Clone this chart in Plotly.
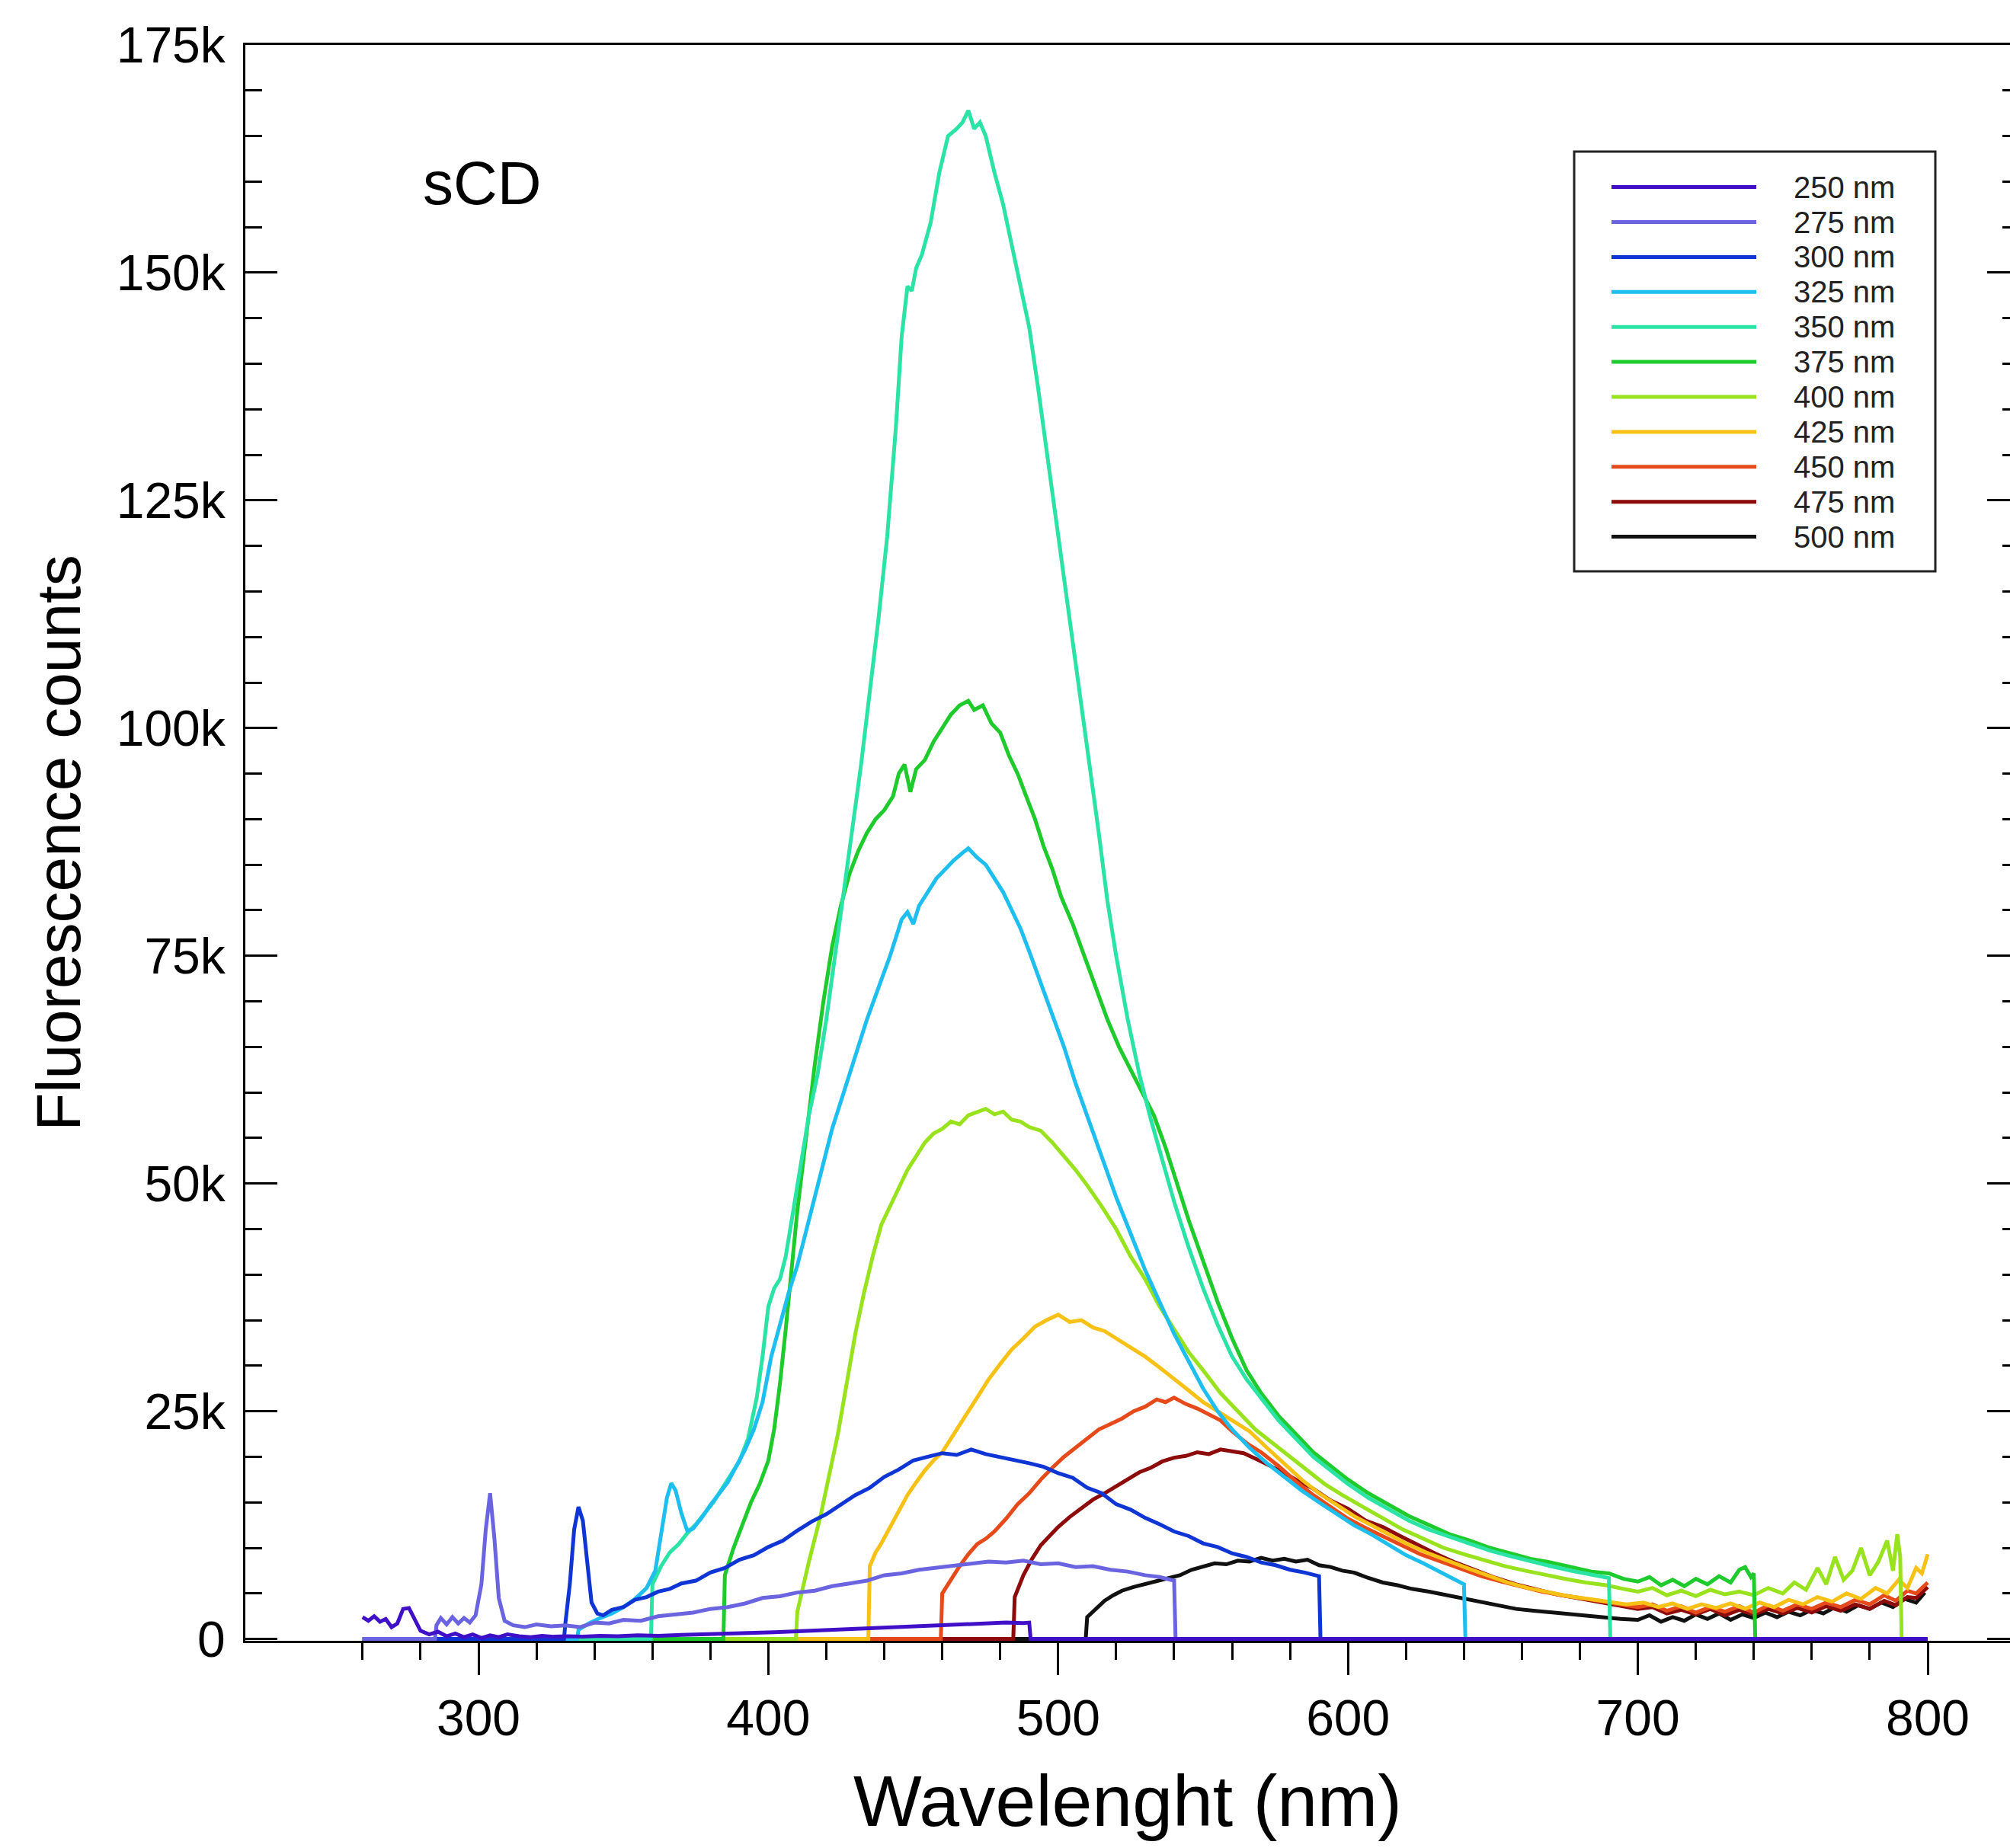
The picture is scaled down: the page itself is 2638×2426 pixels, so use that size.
import plotly.graph_objects as go

# ---------------- data ----------------
series_names = ["250 nm", "275 nm", "300 nm", "325 nm", "350 nm", "375 nm",
                "400 nm", "425 nm", "450 nm", "475 nm", "500 nm"]
series_colors = ["#4010C8", "#6A64E0", "#1035D5", "#1EBFEF", "#2BE3A4", "#1FCB2C",
                 "#98E21E", "#F7C116", "#E64A1A", "#8E0B0B", "#111111"]

wl_250 = [260, 262, 264, 266, 268, 270, 272, 274, 276, 278, 280, 283, 286, 289, 292, 295, 298, 301, 304, 307,
          310, 314, 318, 322, 326, 331, 336, 342, 348, 355, 362, 370, 378, 386, 394, 402, 410, 418, 426, 434,
          442, 450, 458, 466, 474, 482, 488, 490, 490.5, 800]
ct_250 = [2400, 2000, 2500, 1900, 2200, 1300, 1700, 3300, 3400, 2100, 900, 500, 800, 300, 600, 200, 500, 100, 400, 200,
          500, 300, 200, 350, 250, 300, 250, 350, 300, 400, 350, 450, 500, 600, 650, 750, 850, 950, 1050, 1200,
          1300, 1450, 1550, 1650, 1700, 1800, 1750, 1800, 0, 0]

wl_275 = [260, 285, 285.5, 287, 289, 291, 293, 295, 297, 299, 301, 302.5, 304, 305.5, 307, 309, 312, 316, 320, 325,
          330, 335, 340, 345, 350, 356, 362, 368, 374, 380, 386, 392, 398, 404, 410, 416, 422, 428, 434, 440,
          446, 452, 458, 464, 470, 476, 482, 488, 494, 500, 506, 512, 518, 524, 530, 535, 540, 540.5, 800]
ct_275 = [0, 0, 1500, 2300, 1600, 2400, 1700, 2300, 1800, 2600, 6000, 12000, 16000, 11000, 4500, 2000, 1500, 1300, 1600, 1400,
          1500, 1300, 1800, 1700, 2100, 2000, 2500, 2700, 2900, 3300, 3500, 3900, 4500, 4700, 5100, 5300, 5800, 6100, 6400, 7000,
          7200, 7600, 7800, 8100, 8300, 8500, 8400, 8600, 8200, 8300, 7900, 8000, 7600, 7400, 7000, 6800, 6400, 0, 0]

wl_300 = [260, 329.5, 330, 331.5, 333, 334.5, 336, 337.5, 339, 341, 343, 346, 350, 354, 358, 362, 366, 370, 375, 380,
          385, 390, 395, 400, 405, 410, 415, 420, 425, 430, 435, 440, 445, 450, 455, 460, 465, 470, 475, 480,
          485, 490, 495, 500, 505, 510, 515, 520, 525, 530, 535, 540, 545, 550, 555, 560, 565, 570, 575, 580,
          585, 590, 590.5, 800]
ct_300 = [0, 0, 1800, 6000, 12000, 14500, 13000, 8000, 4000, 2800, 2600, 3200, 3500, 4300, 4600, 5200, 5500, 6100, 6400, 7300,
          7800, 8700, 9200, 10100, 10800, 11900, 12900, 13700, 14800, 15800, 16600, 17800, 18600, 19600, 20000, 20400, 20200, 20800, 20300, 20000,
          19700, 19300, 18900, 18200, 17700, 16600, 16000, 14800, 14200, 13300, 12600, 11800, 11300, 10500, 10100, 9400, 9000, 8400, 8100, 7600,
          7300, 6900, 0, 0]

wl_325 = [260, 334, 334.5, 338, 342, 346, 350, 354, 358, 361, 363, 365, 366.5, 368, 370, 372, 374, 377, 380, 383,
          386, 389, 392, 395, 398, 401, 404, 407, 410, 414, 418, 422, 426, 430, 434, 438, 442, 446, 448, 450,
          452, 455, 458, 461, 464, 467, 469, 472, 475, 478, 481, 484, 487, 490, 494, 498, 502, 506, 510, 515,
          520, 525, 530, 535, 540, 545, 550, 555, 560, 566, 572, 578, 584, 590, 596, 602, 608, 614, 620, 626,
          632, 637, 640, 640.5, 800]
ct_325 = [0, 0, 1000, 1700, 2300, 2800, 3500, 4400, 5600, 7500, 11500, 15500, 17100, 16300, 13800, 11900, 12100, 13300, 14700, 16000,
          17200, 19000, 20800, 23000, 26000, 31000, 34500, 38000, 41000, 46000, 51000, 56000, 60000, 64000, 68000, 71500, 75000, 79000, 79800, 78500,
          80500, 82000, 83500, 84500, 85500, 86300, 86800, 85800, 85000, 83500, 82000, 80000, 78000, 75500, 72000, 68500, 65000, 61000, 57500, 53000,
          48500, 44500, 40500, 37000, 33500, 30500, 27500, 25000, 23000, 21000, 19300, 17800, 16300, 15000, 13800, 12500, 11500, 10300, 9200, 8300,
          7300, 6500, 6000, 0, 0]

wl_350 = [260, 359.5, 360, 363, 366, 369, 372, 375, 378, 381, 384, 387, 390, 393, 396, 398, 400, 402, 404, 406,
          408, 411, 414, 417, 420, 423, 426, 429, 432, 435, 438, 441, 444, 446, 448, 449.5, 451, 453, 456, 459,
          462, 465, 467, 469, 471, 473, 475, 478, 481, 484, 487, 490, 493, 496, 499, 502, 505, 508, 511, 514,
          517, 520, 524, 528, 532, 536, 540, 545, 550, 555, 560, 565, 570, 576, 582, 588, 594, 600, 607, 614,
          621, 628, 635, 642, 649, 656, 663, 670, 677, 684, 688, 690, 690.5, 800]
ct_350 = [0, 0, 6000, 8000, 9500, 10400, 11600, 12600, 13800, 15000, 16500, 18000, 19500, 22000, 26500, 31000, 36500, 38500, 39500, 42000,
          46000, 52000, 57500, 62000, 68000, 75000, 82000, 89000, 96000, 104000, 112000, 121000, 133000, 143000, 148500, 148000, 150500, 152000, 155500, 161000,
          165000, 165800, 166500, 167800, 165800, 166500, 165000, 161000, 157500, 153000, 148500, 144000, 137500, 130500, 123500, 116500, 110000, 103000, 96000, 88500,
          81000, 75000, 68000, 62000, 57000, 52500, 48000, 43000, 38500, 34500, 31000, 28500, 26500, 24000, 22000, 20000, 18500, 17000, 15500, 14200,
          13000, 12000, 11200, 10400, 9700, 9100, 8500, 8000, 7500, 7100, 6900, 6700, 0, 0]

wl_375 = [260, 384.5, 385, 388, 391, 394, 397, 400, 402, 404, 406, 408, 410, 413, 416, 419, 422, 425, 428, 431,
          434, 437, 440, 443, 445, 447, 449, 451, 454, 457, 460, 463, 466, 469, 471, 474, 477, 480, 483, 486,
          489, 492, 495, 498, 501, 505, 509, 513, 517, 521, 525, 529, 533, 537, 541, 545, 550, 555, 560, 565,
          570, 576, 582, 588, 594, 600, 607, 614, 621, 628, 635, 642, 649, 656, 663, 670, 677, 684, 690, 695,
          700, 704, 708, 712, 716, 720, 724, 728, 732, 735, 737, 739, 740, 740.5, 800]
ct_375 = [0, 0, 7000, 10000, 12500, 15000, 17000, 19600, 23000, 28000, 34000, 41000, 47000, 55000, 63000, 70000, 76000, 80500, 84000, 86500,
          88500, 90000, 91000, 92500, 95000, 96000, 93000, 95500, 96500, 98500, 100000, 101500, 102500, 103000, 102000, 102500, 100500, 99500, 97000, 95000,
          92500, 90000, 87000, 84500, 81500, 78500, 75000, 71500, 68000, 65000, 62500, 60000, 57500, 54000, 50000, 46000, 41500, 37000, 33000, 29500,
          27000, 24500, 22500, 20500, 19000, 17500, 16000, 14800, 13500, 12500, 11500, 10800, 10000, 9400, 8800, 8400, 7900, 7400, 7200, 6600,
          6300, 6800, 5900, 6500, 5800, 6600, 6000, 6900, 6200, 7600, 7900, 6800, 7200, 0, 0]

wl_400 = [260, 409.5, 410, 412, 414, 416, 418, 420, 422, 424, 427, 430, 433, 436, 439, 442, 445, 448, 451, 454,
          457, 460, 463, 466, 469, 472, 475, 478, 481, 484, 487, 490, 494, 498, 502, 506, 510, 515, 520, 525,
          530, 535, 540, 545, 550, 556, 562, 568, 574, 580, 586, 592, 598, 605, 612, 619, 626, 633, 640, 647,
          654, 661, 668, 675, 682, 689, 695, 700, 705, 710, 715, 720, 725, 730, 735, 740, 745, 750, 754, 758,
          762, 765, 768, 771, 774, 777, 780, 783, 786, 788, 789.5, 790.5, 791, 800]
ct_400 = [0, 0, 3000, 6000, 8500, 11000, 13500, 16500, 19500, 22500, 28000, 33500, 38000, 42000, 45500, 47500, 49500, 51500, 53000, 54500,
          55500, 56000, 56800, 56500, 57500, 57800, 58200, 57600, 57900, 57000, 56800, 56200, 55800, 54500, 53000, 51500, 49800, 47500, 45000, 42000,
          39500, 36500, 34000, 31500, 29500, 27000, 25000, 23000, 21500, 20000, 18500, 17000, 15800, 14500, 13300, 12000, 11000, 10000, 9300, 8600,
          8000, 7500, 7000, 6600, 6200, 5900, 5500, 5200, 5600, 4800, 5300, 4700, 5400, 4900, 5200, 4800, 5600, 5000, 6200, 5400,
          7800, 6000, 9000, 6500, 7500, 10000, 7000, 8500, 10800, 7500, 11500, 9000, 0, 0]

wl_425 = [260, 434.5, 435, 437, 439, 442, 445, 448, 451, 454, 457, 460, 464, 468, 472, 476, 480, 484, 488, 492,
          496, 500, 504, 508, 512, 516, 520, 525, 530, 535, 540, 545, 550, 555, 560, 566, 572, 578, 584, 590,
          596, 602, 608, 614, 620, 627, 634, 641, 648, 655, 662, 669, 676, 683, 690, 696, 702, 707, 712, 717,
          722, 727, 732, 737, 742, 747, 752, 757, 762, 767, 772, 777, 782, 786, 790, 793, 796, 798, 800]
ct_425 = [0, 0, 8000, 9500, 10500, 12300, 14000, 15800, 17200, 18500, 19600, 20500, 22500, 24500, 26500, 28500, 30200, 31800, 33000, 34300,
          35000, 35600, 34800, 35000, 34200, 33800, 33000, 32000, 31000, 29800, 28600, 27300, 26000, 25000, 24000, 22800, 21000, 19300, 17500, 16000,
          14700, 13500, 12500, 11500, 10500, 9500, 8600, 7800, 7000, 6200, 5600, 5100, 4700, 4400, 4100, 3800, 4000, 3500, 3900, 3300,
          3800, 3400, 3900, 3300, 4000, 3500, 4300, 3800, 4600, 4100, 5000, 4400, 5600, 5000, 6500, 5600, 7800, 7200, 9300]

wl_450 = [260, 459.5, 460, 463, 466, 469, 472, 475, 478, 482, 486, 490, 494, 498, 502, 506, 510, 514, 518, 522,
          526, 530, 534, 537, 540, 544, 548, 552, 556, 560, 565, 570, 576, 582, 588, 594, 600, 606, 612, 618,
          625, 632, 639, 646, 653, 660, 667, 674, 681, 688, 694, 700, 705, 710, 715, 720, 725, 730, 735, 740,
          745, 750, 755, 760, 765, 770, 775, 780, 785, 789, 793, 796, 800]
ct_450 = [0, 0, 5000, 6600, 8000, 9300, 10400, 11000, 11800, 13200, 14800, 16000, 17500, 18800, 20000, 21000, 22000, 23000, 23600, 24200,
          25000, 25500, 26300, 26000, 26500, 25800, 25300, 24600, 24000, 22800, 21500, 20500, 19000, 17300, 15800, 14500, 13200, 12200, 11300, 10300,
          9300, 8500, 7700, 6900, 6300, 5700, 5200, 4800, 4400, 4100, 3800, 3500, 3800, 3100, 3600, 2900, 3500, 3000, 3600, 2900,
          3700, 3100, 3800, 3300, 4000, 3500, 4300, 3800, 4800, 4200, 5300, 5000, 6200]

wl_475 = [260, 484.5, 485, 488, 491, 494, 497, 500, 504, 508, 512, 516, 520, 524, 528, 532, 536, 540, 544, 548,
          552, 556, 560, 564, 568, 572, 577, 582, 588, 594, 600, 606, 612, 618, 624, 630, 637, 644, 651, 658,
          665, 672, 679, 686, 693, 700, 705, 710, 715, 720, 725, 730, 735, 740, 745, 750, 755, 760, 765, 770,
          775, 780, 785, 789, 793, 796, 800]
ct_475 = [0, 0, 4600, 7000, 8800, 10300, 11300, 12300, 13400, 14300, 15300, 16000, 16800, 17500, 18300, 18800, 19500, 19900, 20100, 20500,
          20300, 20800, 20600, 20400, 19800, 19200, 18400, 17500, 16500, 15200, 14300, 13000, 12300, 11300, 10300, 9400, 8400, 7500, 6700, 6000,
          5400, 4900, 4500, 4100, 3700, 3300, 3500, 2800, 3200, 2700, 3300, 2600, 3200, 2700, 3300, 2800, 3400, 2900, 3600, 3100,
          3800, 3300, 4200, 3700, 4600, 4500, 5700]

wl_500 = [260, 509.5, 510, 513, 516, 519, 522, 526, 530, 534, 538, 542, 546, 550, 554, 558, 562, 566, 570, 574,
          578, 582, 586, 590, 594, 598, 602, 607, 612, 617, 622, 628, 634, 640, 646, 652, 658, 664, 670, 676,
          682, 688, 694, 700, 704, 708, 712, 716, 720, 724, 728, 732, 736, 740, 744, 748, 752, 756, 760, 764,
          768, 772, 776, 780, 784, 788, 792, 796, 799]
ct_500 = [0, 0, 2400, 3300, 4200, 4800, 5300, 5700, 6000, 6300, 6600, 7000, 7600, 8000, 8300, 8200, 8600, 8500, 8900, 8600,
          8800, 8500, 8700, 8100, 7900, 7500, 7300, 6700, 6200, 5900, 5500, 5200, 4800, 4500, 4000, 3600, 3300, 3100, 2900, 2700,
          2500, 2400, 2200, 2100, 2600, 1900, 2400, 2000, 2700, 2200, 2800, 2100, 2700, 2300, 2900, 2400, 3000, 2600, 3200, 2800,
          3500, 3000, 3700, 3300, 4000, 3500, 4400, 4000, 5100]

x_major_ticks = [300, 400, 500, 600, 700, 800]
x_minor_ticks = [260, 280, 320, 340, 360, 380, 420, 440, 460, 480, 520, 540, 560, 580,
                 620, 640, 660, 680, 720, 740, 760, 780]
y_major_ticks = [0, 25000, 50000, 75000, 100000, 125000, 150000, 175000]
y_tick_labels = ["0", "25k", "50k", "75k", "100k", "125k", "150k", "175k"]

all_wl = [wl_250, wl_275, wl_300, wl_325, wl_350, wl_375, wl_400, wl_425, wl_450, wl_475, wl_500]
all_ct = [ct_250, ct_275, ct_300, ct_325, ct_350, ct_375, ct_400, ct_425, ct_450, ct_475, ct_500]

# ---------------- layout constants (pixels) ----------------
W, H = 2638, 2426
L, R, T, B = 322, 0, 59, 272
PW, PH = W - L - R, H - T - B
FONT = "Liberation Sans, Arial, Helvetica, sans-serif"
LINE_W = 5


def px_x(px):
    return (px - L) / PW


def px_y(py):
    return (H - B - py) / PH


fig = go.Figure()

# draw the last series first so that the shortest-wavelength traces end on top
for i in reversed(range(len(series_names))):
    fig.add_trace(go.Scatter(
        x=all_wl[i], y=all_ct[i], mode="lines", name=series_names[i],
        line=dict(color=series_colors[i], width=LINE_W), showlegend=False,
        hoverinfo="skip"))

# helper trace for the right-hand tick axis
fig.add_trace(go.Scatter(x=[None], y=[None], yaxis="y2", showlegend=False, hoverinfo="skip"))

fig.update_layout(
    width=W, height=H,
    margin=dict(l=L, r=R, t=T, b=B, autoexpand=False),
    paper_bgcolor="white", plot_bgcolor="white",
    font=dict(family=FONT, color="black"),
    xaxis=dict(
        range=[219.56, 828.39], showline=True, linecolor="black", linewidth=3,
        mirror=True, ticks="outside", ticklen=42, tickwidth=3, tickcolor="black",
        tickvals=x_major_ticks, tickfont=dict(size=66, family=FONT),
        minor=dict(tickvals=x_minor_ticks, ticks="outside", ticklen=22, tickwidth=3, tickcolor="black"),
        showgrid=False, zeroline=False, layer="below traces",
        title=dict(text="Wavelenght (nm)", font=dict(size=95, family=FONT), standoff=40),
    ),
    yaxis=dict(
        range=[-200, 175000], showline=True, linecolor="black", linewidth=3,
        ticks="inside", ticklen=42, tickwidth=3, tickcolor="black",
        tickvals=y_major_ticks, ticktext=y_tick_labels, tickfont=dict(size=66, family=FONT),
        minor=dict(dtick=5000, ticks="inside", ticklen=22, tickwidth=3, tickcolor="black"),
        showgrid=False, zeroline=False, ticklabelstandoff=10,
        title=dict(text="Fluorescence counts", font=dict(size=82, family=FONT), standoff=20),
    ),
    yaxis2=dict(
        range=[-200, 175000], overlaying="y", side="right", anchor="free", position=1,
        showline=False, ticks="inside", ticklen=30, tickwidth=3, tickcolor="black",
        tickvals=y_major_ticks, showticklabels=False,
        minor=dict(dtick=5000, ticks="inside", ticklen=10, tickwidth=3, tickcolor="black"),
        showgrid=False, zeroline=False,
    ),
)

# sample label
fig.add_annotation(x=px_x(633), y=px_y(241), xref="paper", yref="paper",
                   text="sCD", showarrow=False, xanchor="center", yanchor="middle",
                   font=dict(size=80, family=FONT, color="black"))

# legend box drawn in the style of the original (long line samples)
shapes = [dict(type="rect", xref="paper", yref="paper",
               x0=px_x(2066), x1=px_x(2540), y0=px_y(750), y1=px_y(199),
               line=dict(color="#222222", width=3), fillcolor="white", layer="above")]
row0, drow = 245.6, 45.9
for i, name in enumerate(series_names):
    yy = px_y(row0 + i * drow)
    shapes.append(dict(type="line", xref="paper", yref="paper",
                       x0=px_x(2115), x1=px_x(2305), y0=yy, y1=yy,
                       line=dict(color=series_colors[i], width=LINE_W), layer="above"))
    fig.add_annotation(x=px_x(2352), y=yy, xref="paper", yref="paper", text=name,
                       showarrow=False, xanchor="left", yanchor="middle",
                       font=dict(size=40, family=FONT, color="#222222"))
fig.update_layout(shapes=shapes)

fig.write_html("out.html")
